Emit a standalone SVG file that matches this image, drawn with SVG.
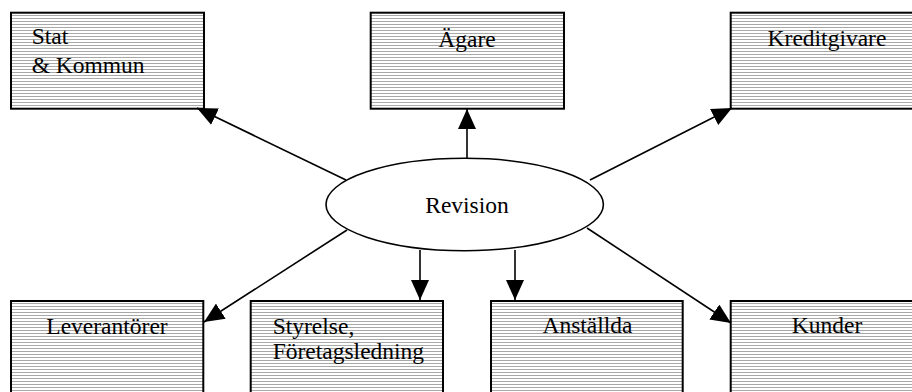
<svg xmlns="http://www.w3.org/2000/svg" width="912" height="392" viewBox="0 0 912 392">
<style>
.box{fill:url(#hatch);stroke:#000;stroke-width:2}
.lbl{font-family:"Liberation Serif","Times New Roman",serif;font-size:23.5px;fill:#000}
.c{text-anchor:middle}
.conn{stroke:#000;stroke-width:1.6;fill:none;marker-end:url(#arr)}
</style>
<defs>
<pattern id="hatch" patternUnits="userSpaceOnUse" width="4" height="3">
<rect width="4" height="3" fill="#fff"/>
<rect width="4" height="1" fill="#a8a8a8"/>
</pattern>
<marker id="arr" viewBox="0 0 20 18" refX="20" refY="9" markerWidth="20" markerHeight="18" orient="auto" markerUnits="userSpaceOnUse">
<path d="M0,0 L20,9 L0,18 Z" fill="#000"/>
</marker>
</defs>
<rect width="912" height="392" fill="#fff"/>
<g id="stat"><rect class="box" x="11" y="12.7" width="193" height="96"/><text class="lbl" x="31.7" y="44.3">Stat</text><text class="lbl" x="31.7" y="72.7">&amp; Kommun</text></g>
<g id="agare"><rect class="box" x="370.7" y="12.7" width="193.3" height="96"/><text class="lbl c" x="467" y="46.5">Ägare</text></g>
<g id="kreditgivare"><rect class="box" x="730.7" y="12.7" width="193" height="96"/><text class="lbl c" x="827" y="46">Kreditgivare</text></g>
<g id="revision"><ellipse cx="464.7" cy="204.5" rx="138.7" ry="46.2" fill="#fff" stroke="#000" stroke-width="1.6"/><text class="lbl c" x="467" y="212.7">Revision</text></g>
<g id="leverantorer"><rect class="box" x="11" y="301" width="192.3" height="100"/><text class="lbl c" x="107" y="334">Leverantörer</text></g>
<g id="styrelse"><rect class="box" x="250.7" y="301" width="192.3" height="100"/><text class="lbl" x="272.7" y="334">Styrelse,</text><text class="lbl" x="272.7" y="359.3">Företagsledning</text></g>
<g id="anstallda"><rect class="box" x="491" y="301" width="191.7" height="100"/><text class="lbl c" x="587.5" y="333.3">Anställda</text></g>
<g id="kunder"><rect class="box" x="730.7" y="301" width="193" height="100"/><text class="lbl c" x="827" y="333.3">Kunder</text></g>
<g id="connectors">
<line class="conn" x1="346" y1="180" x2="197" y2="108"/>
<line class="conn" x1="467" y1="158" x2="467" y2="109"/>
<line class="conn" x1="590" y1="180" x2="732" y2="108"/>
<line class="conn" x1="347" y1="230" x2="204" y2="322"/>
<line class="conn" x1="420" y1="250" x2="420" y2="300"/>
<line class="conn" x1="515" y1="250" x2="515" y2="300"/>
<line class="conn" x1="587" y1="228" x2="731" y2="323"/>
</g>
</svg>
